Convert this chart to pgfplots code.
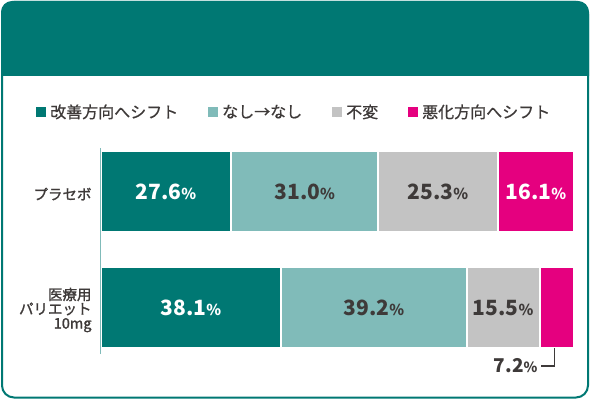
\documentclass[border=0pt]{standalone}
\usepackage{fontspec}
\setmainfont{Noto Sans CJK JP}
\newfontfamily\medfont{Noto Sans CJK JP}[FakeBold=0.8]
\newfontfamily\catfont{Noto Sans CJK JP}[FakeBold=1.4]
\usepackage{pgfplots}
\pgfplotsset{compat=1.18}

\definecolor{cTeal}{RGB}{0,120,115}
\definecolor{cLight}{RGB}{128,187,185}
\definecolor{cGray}{RGB}{195,195,195}
\definecolor{cMag}{RGB}{229,0,127}
\definecolor{cText}{RGB}{62,58,57}

% value label: big digits, small percent sign
\newcommand{\pct}[1]{{\bfseries\fontsize{21}{21}\selectfont #1}{\bfseries\fontsize{15}{15}\selectfont\%}}

\begin{document}
\begin{tikzpicture}
% page size and frame
\path (0pt,0pt) rectangle (592pt,-401pt);
\fill[cTeal] (1pt,-76pt) [rounded corners=11pt] -- (1pt,-1pt) -- (589pt,-1pt) [sharp corners] -- (589pt,-76pt) -- cycle;
\draw[cTeal, line width=2pt, rounded corners=12pt] (2pt,-2pt) rectangle (588pt,-397.5pt);

\begin{axis}[
    at={(100.7pt,-354pt)}, anchor=south west,
    scale only axis,
    width=473.3pt, height=206pt,
    axis on top,
    xbar stacked,
    bar width=81pt,
    xmin=0, xmax=100,
    ymin=-0.3966, ymax=1.3793,
    clip=false,
    axis lines*=left,
    x axis line style={draw=none},
    y axis line style={cLight, line width=1.5pt},
    xtick=\empty,
    ytick={0,1},
    yticklabels={{医療用\\[-2pt]パリエット\\[-2pt]10mg}, プラセボ},
    major tick length=0pt,
    yticklabel style={align=right, text=cText, inner sep=0pt, xshift=-9pt, yshift=-2pt,
        font=\catfont\fontsize{14.5}{16.3}\selectfont},
    legend columns=4,
    legend cell align=left,
    legend style={draw=none, fill=none, inner sep=0pt,
        at={(-0.1409,1.1748)}, anchor=west,
        font=\medfont\fontsize{16}{16}\selectfont, text=cText,
        /tikz/every even column/.append style={column sep=26pt}},
    legend image code/.code={\fill[#1] (0pt,-6pt) rectangle (12pt,6pt);},
]
\addplot[fill=cTeal, draw=white, line width=2pt] coordinates {(38.1,0) (27.6,1)};
\addplot[fill=cLight, draw=white, line width=2pt] coordinates {(39.2,0) (31.0,1)};
\addplot[fill=cGray, draw=white, line width=2pt] coordinates {(15.5,0) (25.3,1)};
\addplot[fill=cMag, draw=white, line width=2pt] coordinates {(7.2,0) (16.1,1)};
\legend{改善方向へシフト, なし→なし, 不変, 悪化方向へシフト}

% centres of the segments, labelled after the axis
\coordinate (a1) at (axis cs:13.8,1);
\coordinate (a2) at (axis cs:43.1,1);
\coordinate (a3) at (axis cs:71.25,1);
\coordinate (a4) at (axis cs:91.95,1);
\coordinate (b1) at (axis cs:19.05,0);
\coordinate (b2) at (axis cs:57.7,0);
\coordinate (b3) at (axis cs:85.05,0);
\coordinate (b4) at (axis cs:95.8,0);
\end{axis}

\node[text=white] at (a1) {\pct{27.6}};
\node[text=cText] at (a2) {\pct{31.0}};
\node[text=cText] at (a3) {\pct{25.3}};
\node[text=white] at (a4) {\pct{16.1}};
\node[text=white] at (b1) {\pct{38.1}};
\node[text=cText] at (b2) {\pct{39.2}};
\node[text=cText] at (b3) {\pct{15.5}};
\draw[cText, line width=1.2pt] ([yshift=-40pt]b4) -- ++(0pt,-18pt) -- ++(-13pt,0pt)
    node[anchor=east, inner sep=3pt]{{\bfseries\fontsize{19}{19}\selectfont 7.2}{\bfseries\fontsize{14}{14}\selectfont\%}};
\end{tikzpicture}
\end{document}
